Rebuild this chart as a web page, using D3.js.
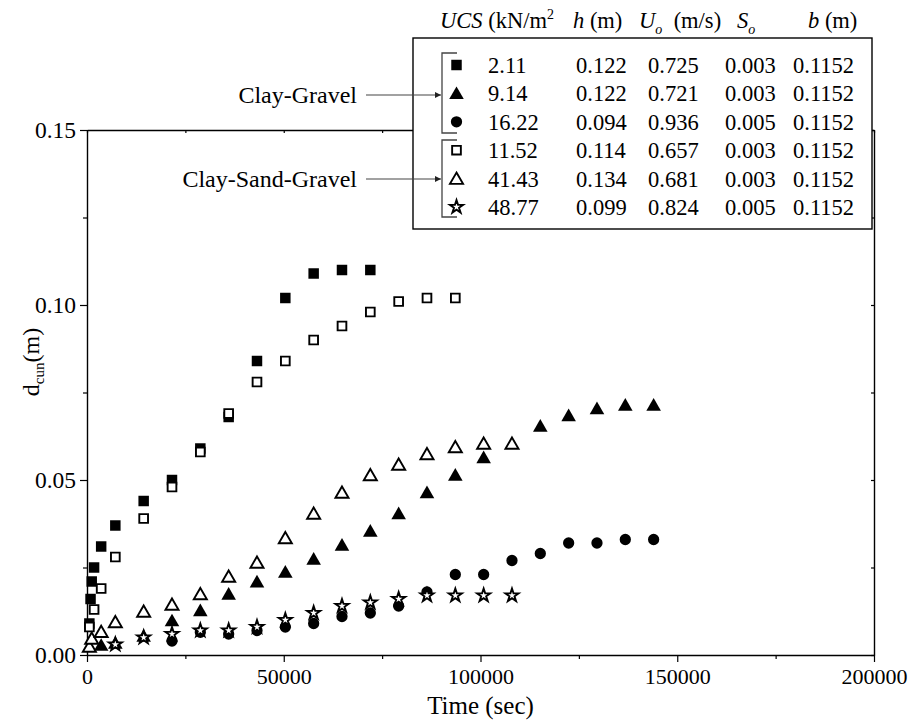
<!DOCTYPE html>
<html>
<head>
<meta charset="utf-8">
<script src="https://cdn.jsdelivr.net/npm/d3@7"></script>
<style>
  html, body { margin: 0; padding: 0; background: #fff; }
  svg, svg text { font-family: "Liberation Serif", "Times New Roman", "DejaVu Serif", serif; }
</style>
</head>
<body>
<svg id="chart" width="911" height="724"></svg>
<script>
// Cumulative scour depth versus time for clay-gravel and clay-sand-gravel beds
const ucs2_11_time  = [600, 900, 1200, 1800, 3600, 7200, 14400, 21600, 28800, 36000, 43200, 50400, 57600, 64800, 72000];
const ucs2_11_depth = [0.009, 0.016, 0.021, 0.025, 0.031, 0.037, 0.044, 0.050, 0.059, 0.068, 0.084, 0.102, 0.109, 0.110, 0.110];

const ucs9_14_time  = [3600, 7200, 14400, 21600, 28800, 36000, 43200, 50400, 57600, 64800, 72000, 79200, 86400, 93600, 100800, 115200, 122400, 129600, 136800, 144000];
const ucs9_14_depth = [0.0024, 0.003, 0.005, 0.0094, 0.0123, 0.017, 0.0205, 0.0233, 0.027, 0.031, 0.035, 0.040, 0.046, 0.051, 0.056, 0.065, 0.068, 0.070, 0.071, 0.071];

const ucs16_22_time  = [21600, 28800, 36000, 43200, 50400, 57600, 64800, 72000, 79200, 86400, 93600, 100800, 108000, 115200, 122400, 129600, 136800, 144000];
const ucs16_22_depth = [0.004, 0.0065, 0.006, 0.007, 0.008, 0.009, 0.011, 0.012, 0.014, 0.018, 0.023, 0.023, 0.027, 0.029, 0.032, 0.032, 0.033, 0.033];

const ucs11_52_time  = [600, 1800, 3600, 7200, 14400, 21600, 28800, 36000, 43200, 50400, 57600, 64800, 72000, 79200, 86400, 93600];
const ucs11_52_depth = [0.008, 0.013, 0.019, 0.028, 0.039, 0.048, 0.058, 0.069, 0.078, 0.084, 0.090, 0.094, 0.098, 0.101, 0.102, 0.102];

const ucs41_43_time  = [600, 1200, 3600, 7200, 14400, 21600, 28800, 36000, 43200, 50400, 57600, 64800, 72000, 79200, 86400, 93600, 100800, 108000];
const ucs41_43_depth = [0.002, 0.0043, 0.0062, 0.009, 0.012, 0.014, 0.017, 0.022, 0.026, 0.033, 0.040, 0.046, 0.051, 0.054, 0.057, 0.059, 0.060, 0.060];

const ucs48_77_time  = [7200, 14400, 21600, 28800, 36000, 43200, 50400, 57600, 64800, 72000, 79200, 86400, 93600, 100800, 108000];
const ucs48_77_depth = [0.003, 0.005, 0.006, 0.007, 0.007, 0.008, 0.010, 0.012, 0.014, 0.015, 0.016, 0.017, 0.017, 0.017, 0.017];

// Test conditions shown in the key table
const keyUCS = ["2.11", "9.14", "16.22", "11.52", "41.43", "48.77"];
const keyH   = ["0.122", "0.122", "0.094", "0.114", "0.134", "0.099"];
const keyU   = ["0.725", "0.721", "0.936", "0.657", "0.681", "0.824"];
const keyS   = ["0.003", "0.003", "0.005", "0.003", "0.003", "0.005"];
const keyB   = ["0.1152", "0.1152", "0.1152", "0.1152", "0.1152", "0.1152"];
const groupNames = ["Clay-Gravel", "Clay-Sand-Gravel"];

const xMajor = [0, 50000, 100000, 150000, 200000];
const xMinor = [25000, 75000, 125000, 175000];
const yMajor = [0, 0.05, 0.10, 0.15];
const yMinor = [0.025, 0.075, 0.125];

const series = [
  { t: ucs2_11_time,  d: ucs2_11_depth,  shape: "square",   filled: true  },
  { t: ucs9_14_time,  d: ucs9_14_depth,  shape: "triangle", filled: true  },
  { t: ucs16_22_time, d: ucs16_22_depth, shape: "circle",   filled: true  },
  { t: ucs11_52_time, d: ucs11_52_depth, shape: "square",   filled: false },
  { t: ucs41_43_time, d: ucs41_43_depth, shape: "triangle", filled: false },
  { t: ucs48_77_time, d: ucs48_77_depth, shape: "star",     filled: false }
];

const serif = "Liberation Serif, Times New Roman, DejaVu Serif, serif";
const svg = d3.select("#chart").attr("font-family", serif);
const plotLeft = 87, plotRight = 874, plotTop = 130, plotBottom = 655;

const x = d3.scaleLinear().domain([0, 200000]).range([plotLeft, plotRight]);
const y = d3.scaleLinear().domain([0, 0.15]).range([plotBottom, plotTop]);

const symbolPath = {
  square:   d3.symbol().type(d3.symbolSquare).size(110)(),
  triangle: d3.symbol().type(d3.symbolTriangle).size(92)(),
  circle:   d3.symbol().type(d3.symbolCircle).size(100)(),
  star:     d3.symbol().type(d3.symbolStar).size(54)()
};
const openPath = {
  square:   d3.symbol().type(d3.symbolSquare).size(76)(),
  triangle: d3.symbol().type(d3.symbolTriangle).size(74)(),
  star:     d3.symbol().type(d3.symbolStar).size(54)()
};

function styleMarker(sel, s) {
  if (s.filled) {
    sel.attr("d", symbolPath[s.shape]).attr("fill", "#000").attr("stroke", "none");
  } else {
    sel.attr("d", openPath[s.shape]).attr("fill", "#fff").attr("stroke", "#000")
       .attr("stroke-width", 1.9).attr("stroke-linejoin", "miter");
  }
}

// Axes: bottom and left carry labels, top and right mirror the ticks inward
const fmtX = d3.format("d");
const fmtY = d3.format(".2f");

const gx = svg.append("g").attr("transform", `translate(0,${plotBottom})`)
  .call(d3.axisBottom(x).tickValues(xMajor).tickSize(7).tickSizeOuter(0).tickPadding(6).tickFormat(fmtX));
svg.append("g").attr("transform", `translate(0,${plotBottom})`)
  .call(d3.axisBottom(x).tickValues(xMinor).tickSize(4).tickSizeOuter(0).tickFormat(""))
  .select(".domain").remove();

const gy = svg.append("g").attr("transform", `translate(${plotLeft},0)`)
  .call(d3.axisLeft(y).tickValues(yMajor).tickSize(7).tickSizeOuter(0).tickPadding(4).tickFormat(fmtY));
svg.append("g").attr("transform", `translate(${plotLeft},0)`)
  .call(d3.axisLeft(y).tickValues(yMinor).tickSize(4).tickSizeOuter(0).tickFormat(""))
  .select(".domain").remove();

svg.append("g").attr("transform", `translate(0,${plotTop})`)
  .call(d3.axisBottom(x).tickValues(xMajor.concat(xMinor)).tickSize(3).tickSizeOuter(0).tickFormat(""));
svg.append("g").attr("transform", `translate(${plotRight},0)`)
  .call(d3.axisLeft(y).tickValues(yMajor.concat(yMinor)).tickSize(3).tickSizeOuter(0).tickFormat(""));

svg.selectAll("g").attr("font-family", serif);
svg.selectAll(".domain").attr("stroke", "#000").attr("stroke-width", 1.4);
svg.selectAll(".tick line").attr("stroke", "#000").attr("stroke-width", 1.2);
gx.selectAll(".tick text").attr("font-size", "22px").attr("fill", "#000");
gy.selectAll(".tick text").attr("font-size", "23.5px").attr("fill", "#000");

// Axis titles
svg.append("text")
  .attr("x", (plotLeft + plotRight) / 2).attr("y", 714)
  .attr("text-anchor", "middle").attr("font-size", "25px").attr("fill", "#000")
  .text("Time (sec)");

const yTitle = svg.append("text")
  .attr("transform", "translate(39,362) rotate(-90)")
  .attr("text-anchor", "middle").attr("font-size", "24px").attr("fill", "#000");
yTitle.append("tspan").text("d");
yTitle.append("tspan").attr("font-size", "15px").attr("dy", 5).text("cun");
yTitle.append("tspan").attr("dy", -5).text("(m)");

// Data markers
const plot = svg.append("g");
series.forEach(s => {
  const pts = s.t.map((t, i) => ({ t: t, d: s.d[i] }));
  plot.append("g").selectAll("path").data(pts).join("path")
    .attr("transform", p => `translate(${x(p.t)},${y(p.d)})`)
    .call(styleMarker, s);
});

// Key table
const key = svg.append("g").attr("font-size", "22.5px").attr("fill", "#000");
key.append("rect")
  .attr("x", 413).attr("y", 38).attr("width", 459).attr("height", 191)
  .attr("fill", "#fff").attr("stroke", "#000").attr("stroke-width", 1.4);

const header = key.append("text").attr("y", 28);
header.append("tspan").attr("x", 440).attr("font-style", "italic").text("UCS");
header.append("tspan").text(" (kN/m");
header.append("tspan").attr("font-size", "14px").attr("dy", -9).text("2");
header.append("tspan").attr("x", 573).attr("dy", 9).attr("font-style", "italic").text("h");
header.append("tspan").text(" (m)");
header.append("tspan").attr("x", 639).attr("font-style", "italic").text("U");
header.append("tspan").attr("font-size", "14px").attr("font-style", "italic").attr("dy", 6).text("o");
header.append("tspan").attr("x", 668).attr("dy", -6).text(" (m/s)");
header.append("tspan").attr("x", 737).attr("font-style", "italic").text("S");
header.append("tspan").attr("font-size", "14px").attr("font-style", "italic").attr("dy", 6).text("o");
header.append("tspan").attr("x", 808).attr("dy", -6).attr("font-style", "italic").text("b");
header.append("tspan").text(" (m)");

const rowY = d3.scalePoint().domain(d3.range(6)).range([65, 207]);
const cols = [
  { x: 488, vals: keyUCS },
  { x: 576, vals: keyH },
  { x: 648, vals: keyU },
  { x: 725, vals: keyS },
  { x: 793, vals: keyB }
];
d3.range(6).forEach(i => {
  key.append("path")
    .attr("transform", `translate(456.5,${rowY(i) + (series[i].shape === "triangle" ? 1.5 : 0)})`)
    .call(styleMarker, series[i]);
  cols.forEach(c => {
    key.append("text").attr("x", c.x).attr("y", rowY(i) + 8).text(c.vals[i]);
  });
});

// Group brackets and pointer arrows
const lineCol = "#444";
svg.append("defs").append("marker")
  .attr("id", "arrowhead").attr("viewBox", "0 0 10 10")
  .attr("refX", 10).attr("refY", 5)
  .attr("markerWidth", 8).attr("markerHeight", 6)
  .attr("markerUnits", "userSpaceOnUse").attr("orient", "auto")
  .append("path").attr("d", "M0,0 L10,5 L0,10 z").attr("fill", "#222");

const groups = [
  { name: groupNames[0], y0: 53, y1: 133, arrowY: 95 },
  { name: groupNames[1], y0: 140, y1: 217, arrowY: 179 }
];
groups.forEach(g => {
  svg.append("path")
    .attr("d", `M457,${g.y0} H442 V${g.y1} H457`)
    .attr("fill", "none").attr("stroke", lineCol).attr("stroke-width", 1.3);
  svg.append("line")
    .attr("x1", 366).attr("x2", 441).attr("y1", g.arrowY).attr("y2", g.arrowY)
    .attr("stroke", lineCol).attr("stroke-width", 1.2)
    .attr("marker-end", "url(#arrowhead)");
  svg.append("text")
    .attr("x", 357).attr("y", g.arrowY + 8)
    .attr("text-anchor", "end").attr("font-size", "24px").attr("fill", "#000")
    .text(g.name);
});
</script>
</body>
</html>
